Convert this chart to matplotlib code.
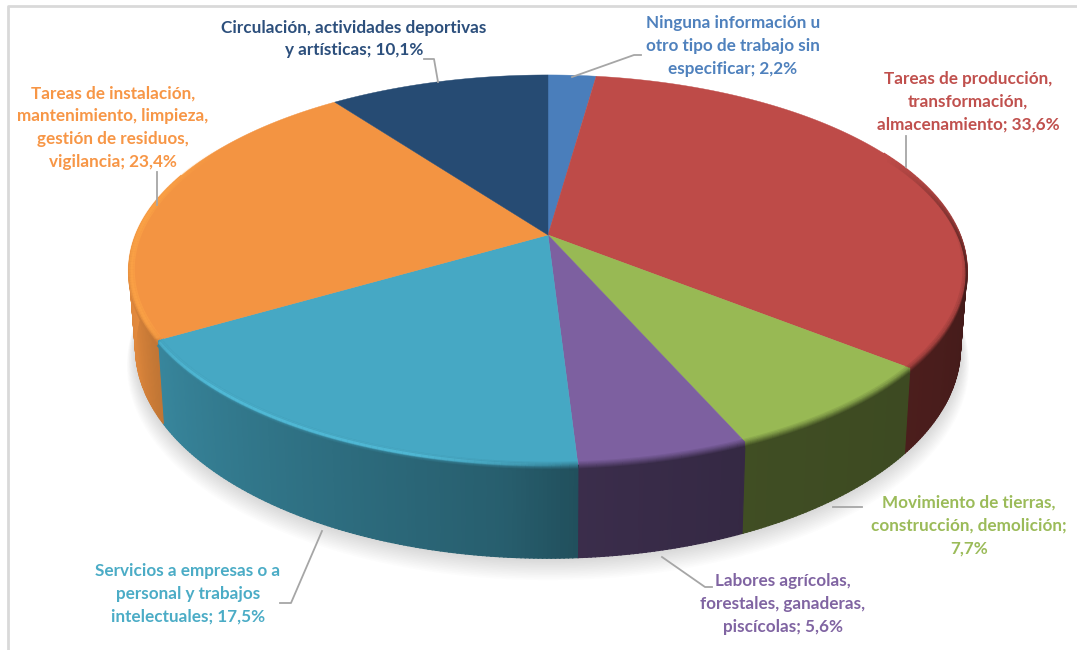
import numpy as np
import matplotlib
matplotlib.use('Agg')
import matplotlib.pyplot as plt
from matplotlib.collections import LineCollection
from matplotlib.colors import to_rgb

# slices, clockwise from 12 o'clock
labels = [
    'Ninguna información u\notro tipo de trabajo sin\nespecificar; 2,2%',
    'Tareas de producción,\ntransformación,\nalmacenamiento; 33,6%',
    'Movimiento de tierras,\nconstrucción, demolición;\n7,7%',
    'Labores agrícolas,\nforestales, ganaderas,\npiscícolas; 5,6%',
    'Servicios a empresas o a\npersonal y trabajos\nintelectuales; 17,5%',
    'Tareas de instalación,\nmantenimiento, limpieza,\ngestión de residuos,\nvigilancia; 23,4%',
    'Circulación, actividades deportivas\ny artísticas; 10,1%',
]
values = [2.2, 33.6, 7.7, 5.6, 17.5, 23.4, 10.1]
colors = ['#4a7ebb', '#be4b48', '#98b954', '#7d60a0', '#46a8c4', '#f39442', '#264b73']
text_colors = ['#4f81bd', '#c0504d', '#9bbb59', '#8064a2', '#4bacc6', '#f79646', '#2c4f7c']

label_pos = [(733, 46), (968, 102), (969, 525.5), (783, 604), (188, 593.5), (113, 127.5), (354, 39)]
leaders = [
    [(572, 77), (634, 55), (641, 55)],
    [(906, 167), (906, 136)],
    [(833, 507), (862, 507)],
    [(662, 557), (705, 587), (712, 587)],
    [(322, 531), (291, 603), (280, 603)],
    [(157, 205), (157, 172)],
    [(438, 82), (434, 59), (424, 59)],
]

# how dark the side wall is, by angle
shade_theta = [90, 130, 156, 176, 185, 240, 252, 275]
shade_val = [0.34, 0.40, 0.42, 0.47, 0.56, 0.80, 0.90, 0.95]

# projection of the tilted disc on to the picture (pixels)
CX, CY = 548, 235
A, B, K = 188.7, 412, 0.179
DEPTH, SY, SX = 75, 1.08, 0.985


def top_xy(theta, r=1.0):
    t = np.radians(theta)
    u, v = r * np.sin(t), r * np.cos(t)
    den = 1 + K * v
    return CX + B * u / den, CY - A * v / den


def bottom_xy(theta):
    x, y = top_xy(theta)
    return CX + SX * (x - CX), CY + DEPTH + SY * (y - CY)


def rim_xy(theta, off):
    # off < 0 moves inside the top face, off > 0 down the wall
    if off < 0:
        return top_xy(theta, 1 + off * 0.004)
    x, y = top_xy(theta)
    return x, y + off


def streak(th, fade, off, color, lw, alpha):
    x, y = rim_xy(th, off)
    pts = np.column_stack([x, y])
    segs = [pts[n:n + 2] for n in range(len(th) - 1)]
    cols = [(*to_rgb(color), alpha * fade[n]) for n in range(len(th) - 1)]
    ax.add_collection(LineCollection(segs, colors=cols, linewidths=lw, zorder=6))


fig = plt.figure(figsize=(10.77, 6.5), dpi=100)
ax = fig.add_axes([0, 0, 1, 1])
ax.set_xlim(0, 1077)
ax.set_ylim(650, 0)
ax.axis('off')

plt.rcParams['font.family'] = ['Lato', 'DejaVu Sans']

# frame of the screenshot
ax.plot([8, 8, 1077], [650, 6, 6], color='#d9d9d9', lw=2, zorder=1)

# soft shadow under the pie
th_all = np.linspace(0, 360, 361)
bx, by = bottom_xy(th_all)
for i in range(14):
    grow = 1 + i * 0.0016
    ax.fill(CX + (bx - CX) * grow, CY + 80 + (by - CY - 80) * grow + i * 1.3,
            color='#555555', alpha=0.016, lw=0, zorder=2)

edges = np.concatenate([[0], np.cumsum(values)]) / sum(values) * 360

# side wall, cut in thin strips so the shading can change with the angle
for i, c in enumerate(colors):
    rgb = np.array(to_rgb(c))
    start, end = max(edges[i], 88), min(edges[i + 1], 282)
    if end <= start:
        continue
    for a in np.arange(start, end, 0.5):
        b = min(a + 0.6, end)
        side = tuple(rgb * np.interp(a, shade_theta, shade_val))
        x1, y1 = top_xy(np.array([a, b]))
        x2, y2 = bottom_xy(np.array([b, a]))
        ax.fill(np.r_[x1, x2], np.r_[y1, y2], facecolor=side, edgecolor=side, lw=0.8, zorder=3)

# top face
for i, c in enumerate(colors):
    th = np.linspace(edges[i], edges[i + 1], 120)
    x, y = top_xy(th)
    ax.fill(np.r_[CX, x], np.r_[CY, y], color=c, lw=0.3, zorder=4)

# bevel: soft change from top colour to wall colour around the rim
for i, c in enumerate(colors):
    rgb = np.array(to_rgb(c))
    th = np.arange(max(edges[i], 62), min(edges[i + 1], 290) + 0.5, 1.0)
    if len(th) < 2:
        continue
    for j in range(9):
        x, y = rim_xy(th, j - 3)
        pts = np.column_stack([x, y])
        segs, cols = [], []
        for n in range(len(th) - 1):
            f = np.interp(th[n], shade_theta, shade_val)
            fade = np.interp(th[n], [62, 105, 262, 285], [0.0, 1.0, 1.0, 0.0])
            w = (j / 8) * fade
            segs.append(pts[n:n + 2])
            cols.append(tuple((1 - w) * rgb + w * rgb * f))
        ax.add_collection(LineCollection(segs, colors=cols, linewidths=1.3, zorder=5))

# light streak on the blue and orange rims
th = np.linspace(edges[4] + 1, edges[5] - 0.5, 80)
fade = np.interp(th, [edges[4], 195, 225, edges[5]], [0.0, 1.0, 1.0, 0.5])
for off, lw, al in [(-1, 2.5, 0.25), (0, 2, 0.6), (1, 1.5, 0.25)]:
    streak(th, fade, off, '#58c8e6', lw, al)

th = np.linspace(edges[5] + 0.5, 300, 80)
fade = np.interp(th, [edges[5], edges[5] + 5, 275, 300], [0.5, 1.0, 1.0, 0.0])
for off, lw, al in [(-2, 3, 0.5), (-1, 2.5, 0.45), (0, 2, 0.35)]:
    streak(th, fade, off, '#ffa748', lw, al)

for pts in leaders:
    ax.plot(*zip(*pts), color='#a6a6a6', lw=1.3, zorder=7)

for txt, c, (x, y) in zip(labels, text_colors, label_pos):
    ax.text(x, y, txt, color=c, fontsize=12.3, fontweight='bold', ha='center',
            va='center', linespacing=1.52, zorder=8)

fig.savefig('out.png', dpi=100)
